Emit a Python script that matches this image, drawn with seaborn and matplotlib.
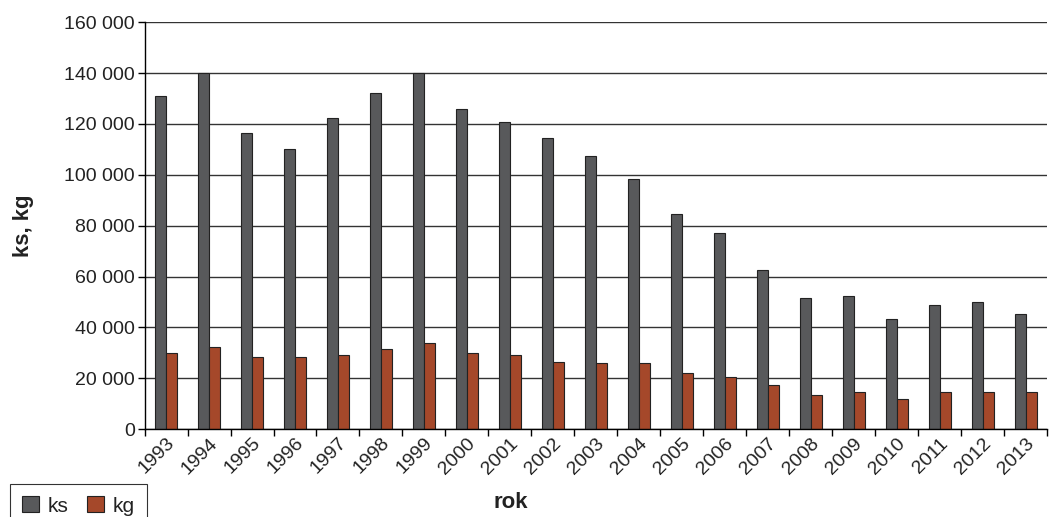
import numpy as np
import pandas as pd
import seaborn as sns
import matplotlib.pyplot as plt
from matplotlib.ticker import FuncFormatter, FixedLocator

years = [str(y) for y in range(1993, 2014)]
ks = [131000, 140000, 116500, 110300, 122400, 132200, 140000, 126000, 120800,
      114300, 107400, 98300, 84600, 77000, 62500, 51600, 52500, 43200, 48900,
      49900, 45300]
kg = [30000, 32400, 28200, 28400, 29100, 31600, 33700, 29800, 29000, 26300,
      25900, 26100, 22000, 20300, 17300, 13500, 14400, 11900, 14400, 14400,
      14400]
y_ticks = [0, 20000, 40000, 60000, 80000, 100000, 120000, 140000, 160000]

df = pd.DataFrame({"rok": years * 2,
                   "hodnota": ks + kg,
                   "serie": ["ks"] * len(years) + ["kg"] * len(years)})

sns.set_style("white")
plt.rcParams['font.family'] = ['Liberation Sans', 'DejaVu Sans']

fig = plt.figure(figsize=(10.49, 5.17), dpi=100)
ax = fig.add_axes([0.1378, 0.170, 0.8605, 0.787])

sns.barplot(data=df, x="rok", y="hodnota", hue="serie",
            palette={"ks": "#58595b", "kg": "#a5482a"}, width=0.51,
            edgecolor="#222222", linewidth=0.8, saturation=1, ax=ax,
            legend=False)

ax.set_xlim(-0.5, len(years) - 0.5)
ax.set_ylim(0, 160000)
ax.set_yticks(y_ticks)
ax.yaxis.set_major_formatter(
    FuncFormatter(lambda v, p: "{:,}".format(int(v)).replace(",", " ")))
ax.yaxis.grid(True, color="#333333", linewidth=1)
ax.set_axisbelow(True)

# tick marks sit between the years, labels under the bars
ax.xaxis.set_minor_locator(FixedLocator(np.arange(-0.5, len(years), 1.0)))
ax.tick_params(axis="x", which="major", length=0, labelsize=14, pad=4)
ax.tick_params(axis="x", which="minor", length=5, width=1, color="black",
               direction="out", bottom=True)
ax.tick_params(axis="y", length=5, width=1, color="black", direction="out",
               left=True, labelsize=14, pad=2)
for lab in ax.get_xticklabels():
    lab.set_rotation(45)
    lab.set_ha("right")
    lab.set_rotation_mode("anchor")
    lab.set_color("#222222")
for lab in ax.get_yticklabels():
    lab.set_color("#222222")

for s in ["top", "right"]:
    ax.spines[s].set_visible(False)
for s in ["left", "bottom"]:
    ax.spines[s].set_color("black")
    ax.spines[s].set_linewidth(1)

ax.set_xlabel("rok", fontsize=16, fontweight="bold", color="#222222")
ax.xaxis.set_label_coords(0.406, -0.155)
ax.set_ylabel("ks, kg", fontsize=16, fontweight="bold", color="#222222")
ax.yaxis.set_label_coords(-0.123, 0.5)

handles = [plt.Rectangle((0, 0), 1, 1, facecolor=c, edgecolor="#222222",
                         linewidth=0.8) for c in ["#58595b", "#a5482a"]]
leg = fig.legend(handles, ["ks", "kg"], ncol=2, loc="upper left",
                 bbox_to_anchor=(0.0095, 0.064), frameon=True, fancybox=False,
                 edgecolor="black", fontsize=15, handlelength=0.8,
                 handleheight=0.8, handletextpad=0.42, columnspacing=0.87,
                 borderpad=0.6, borderaxespad=0)
leg.get_frame().set_linewidth(0.8)
for t in leg.get_texts():
    t.set_color("#222222")

fig.savefig("out.png", dpi=100)
